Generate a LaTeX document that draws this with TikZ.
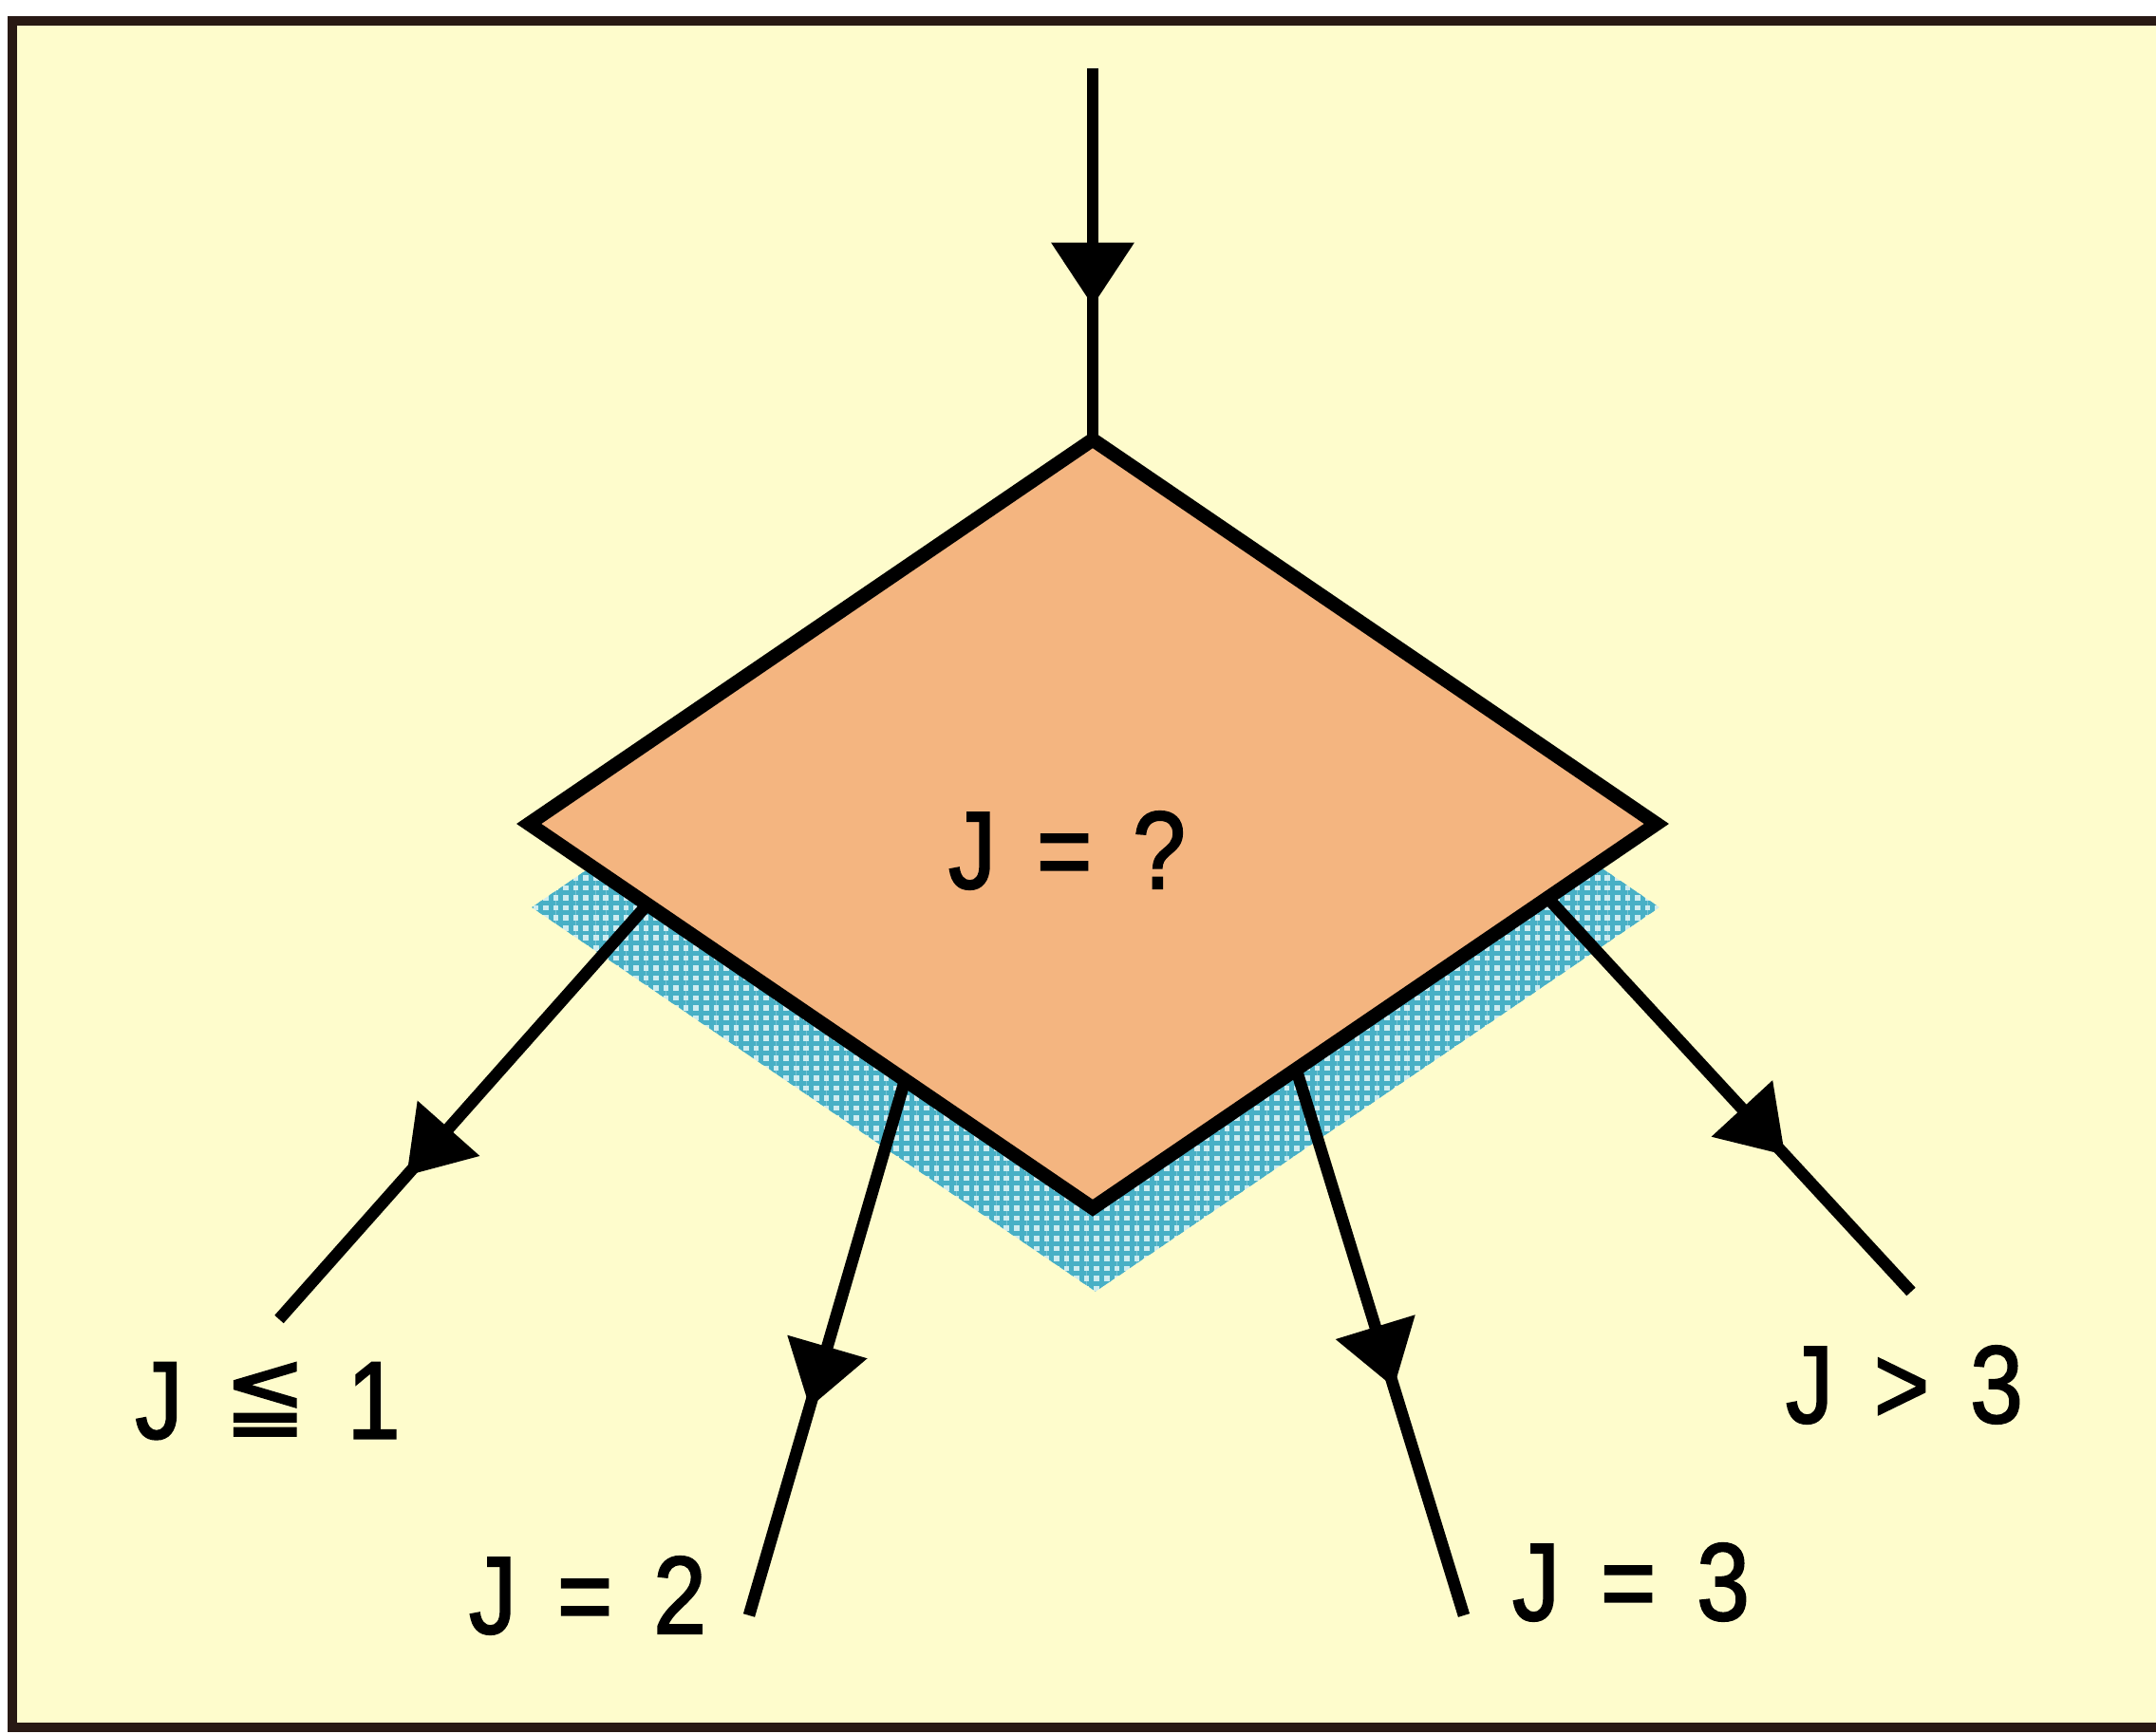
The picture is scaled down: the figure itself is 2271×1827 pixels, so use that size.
\documentclass[tikz,border=0pt]{standalone}
\usepackage{fontspec}
\setmainfont{Liberation Sans}[FakeStretch=0.86,FakeBold=1.8,WordSpace=1.55]
\newfontfamily\symfont{DejaVu Sans}[FakeStretch=0.9,FakeBold=1.2]
\usetikzlibrary{shapes.geometric,arrows.meta,decorations.markings,patterns.meta,calc}
\definecolor{bgcream}{RGB}{254,252,204}
\definecolor{peach}{RGB}{244,181,128}
\definecolor{meshteal}{RGB}{72,176,198}
\definecolor{meshlight}{RGB}{205,236,240}
\definecolor{framecol}{RGB}{40,25,20}
\newcommand{\leqqsym}{\raisebox{3.2pt}{\scalebox{1}[0.93]{\symfont ≦}}}
\begin{document}
\begin{tikzpicture}[x=0.01cm,y=-0.01cm,
  dia/.style={shape=diamond, minimum width=11.87cm, minimum height=8.09cm, inner sep=0pt, outer sep=0pt},
  conn/.style={line width=3.6pt, draw=black},
  midarrow/.style={postaction={decorate}, decoration={markings, mark=at position #1 with {\arrow{Triangle[length=19pt,width=24pt]}}}},
  lbl/.style={font=\fontsize{33}{36}\selectfont, inner sep=0pt, text=black},
]
\useasboundingbox (0,0) rectangle (2271,1827);
\fill[white] (0,0) rectangle (2271,1827);
\fill[bgcream] (13,22) rectangle (2271,1820);
\draw[line width=2.6pt, draw=framecol] (2271,1820) -- (13,1820) -- (13,22) -- (2271,22);

% shadow
\node[dia, fill=meshlight,
  postaction={pattern={Lines[angle=0,distance=3pt,line width=1.4pt]}, pattern color=meshteal},
  postaction={pattern={Lines[angle=90,distance=3pt,line width=1.4pt]}, pattern color=meshteal}]
  (shadow) at (1154,956) {};

% decision
\node[dia, fill=peach, draw=black, line width=4.2pt] (dec) at (1151,868) {};
\node[lbl] (q) at (1124,896) {J = ?};

\coordinate (t0) at (1151,72);
\coordinate (s1) at ($(dec.west)!0.21!(dec.south)$);
\coordinate (s2) at ($(dec.west)!0.667!(dec.south)$);
\coordinate (s3) at ($(dec.south)!0.361!(dec.east)$);
\coordinate (s4) at ($(dec.south)!0.807!(dec.east)$);
\coordinate (e1) at (294,1390);
\coordinate (e2) at (789,1702);
\coordinate (e3) at (1542,1702);
\coordinate (e4) at (2013,1361);

\draw[conn, midarrow=0.64] (t0) -- (dec.north);
\draw[conn, midarrow=0.654] (s1) -- (e1);
\draw[conn, midarrow=0.612] (s2) -- (e2);
\draw[conn, midarrow=0.583] (s3) -- (e3);
\draw[conn, midarrow=0.653] (s4) -- (e4);

\node[lbl] (l1) at (282,1476) {J \leqqsym{} 1};
\node[lbl] (l2) at (619,1681) {J = 2};
\node[lbl] (l3) at (1718,1667) {J = 3};
\node[lbl] (l4) at (2006,1459) {J > 3};
\end{tikzpicture}
\end{document}
